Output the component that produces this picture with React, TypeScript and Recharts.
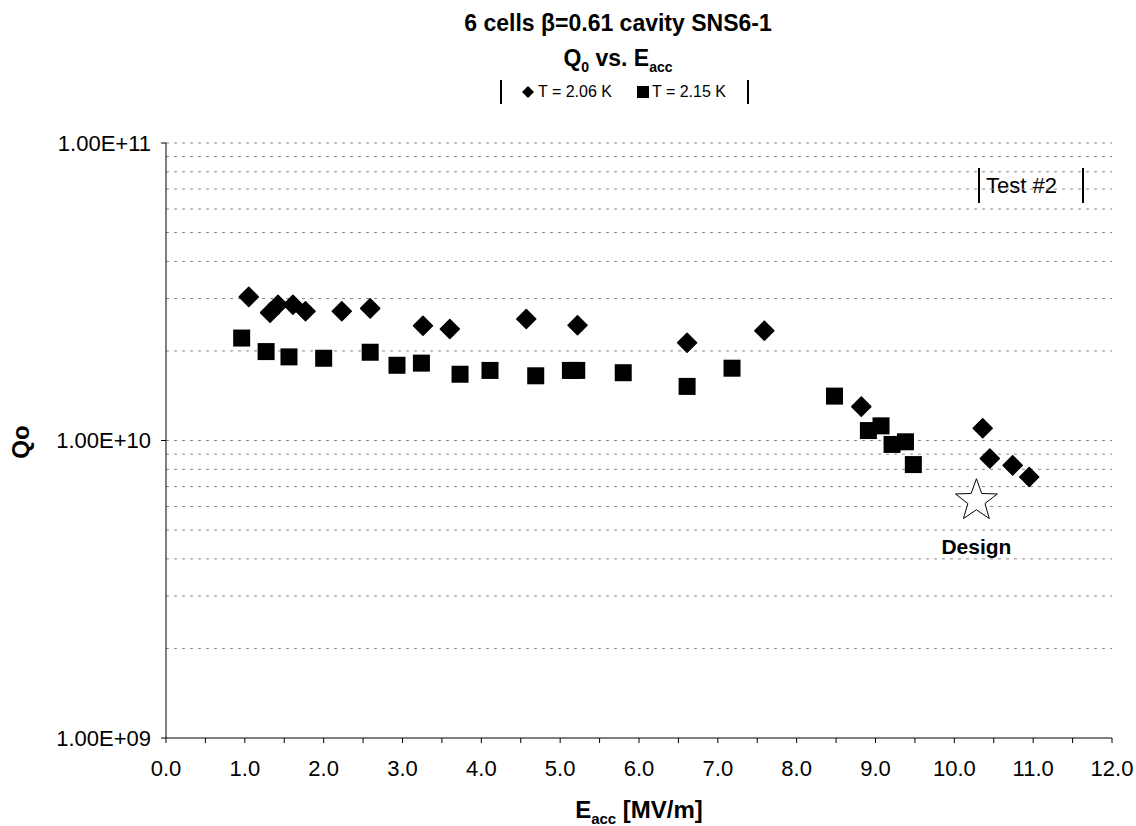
import React from 'react';
import { ScatterChart, Scatter, XAxis, YAxis, ReferenceLine, LabelList } from 'recharts';

// T = 2.06 K (diamonds)
const eacc206 = [1.05, 1.32, 1.42, 1.61, 1.77, 2.23, 2.59, 3.26, 3.6, 4.57, 5.22, 6.61, 7.59, 8.82, 10.36, 10.45, 10.74, 10.95];
const q206 = [3.04e10, 2.69e10, 2.86e10, 2.86e10, 2.72e10, 2.72e10, 2.78e10, 2.43e10, 2.37e10, 2.56e10, 2.44e10, 2.13e10, 2.34e10, 1.3e10, 1.1e10, 8.7e9, 8.25e9, 7.54e9];

// T = 2.15 K (squares)
const eacc215 = [0.96, 1.27, 1.56, 2.0, 2.59, 2.93, 3.24, 3.73, 4.11, 4.69, 5.13, 5.21, 5.8, 6.61, 7.18, 8.48, 8.91, 9.07, 9.21, 9.38, 9.48];
const q215 = [2.21e10, 1.99e10, 1.91e10, 1.89e10, 1.98e10, 1.79e10, 1.82e10, 1.67e10, 1.72e10, 1.65e10, 1.72e10, 1.72e10, 1.69e10, 1.52e10, 1.75e10, 1.41e10, 1.08e10, 1.12e10, 9.7e9, 9.9e9, 8.3e9];

const designPoint = [{ e: 10.28, q: 6.37e9, name: 'Design' }];

const xTicks = [0, 0.5, 1, 1.5, 2, 2.5, 3, 3.5, 4, 4.5, 5, 5.5, 6, 6.5, 7, 7.5, 8, 8.5, 9, 9.5, 10, 10.5, 11, 11.5, 12];
const yTicks = [1e9, 1e10, 1e11];
const yGrid = [
  2e9, 3e9, 4e9, 5e9, 6e9, 7e9, 8e9, 9e9, 1e10,
  2e10, 3e10, 4e10, 5e10, 6e10, 7e10, 8e10, 9e10, 1e11,
];

const data206 = eacc206.map((e, i) => ({ e, q: q206[i] }));
const data215 = eacc215.map((e, i) => ({ e, q: q215[i] }));

const FONT = '"Liberation Sans", Arial, sans-serif';

const Diamond = ({ cx, cy }: any) => (
  <polygon
    points={`${cx},${cy - 9.5} ${cx + 9.5},${cy} ${cx},${cy + 9.5} ${cx - 9.5},${cy}`}
    fill="#000"
    stroke="#000"
    strokeWidth={1.5}
    strokeLinejoin="round"
  />
);

const Square = ({ cx, cy }: any) => (
  <rect x={cx - 8.5} y={cy - 8.5} width={17} height={17} fill="#000" />
);

const Star = ({ cx, cy }: any) => {
  const pts: string[] = [];
  for (let k = 0; k < 10; k++) {
    const r = k % 2 === 0 ? 22 : 9;
    const a = -Math.PI / 2 + (k * Math.PI) / 5;
    pts.push(`${cx + r * Math.cos(a)},${cy + r * Math.sin(a) + 2}`);
  }
  return <polygon points={pts.join(' ')} fill="#fff" stroke="#000" strokeWidth={1} />;
};

const fmtY = (v: number) => {
  const exp = Math.round(Math.log10(v));
  return `1.00E+${exp < 10 ? '0' + exp : exp}`;
};

const fmtX = (v: number) => (Number.isInteger(v) ? v.toFixed(1) : '');

const titleStyle: React.CSSProperties = {
  position: 'absolute',
  left: 0,
  width: 1136,
  textAlign: 'center',
  paddingLeft: 100,
  boxSizing: 'border-box',
  fontWeight: 'bold',
  fontSize: 23,
  lineHeight: '30px',
  whiteSpace: 'nowrap',
};

export default function App() {
  return (
    <div style={{ position: 'absolute', left: 0, top: 0, width: 1136, height: 826, background: '#fff', fontFamily: FONT }}>
      <div style={{ ...titleStyle, top: 8 }}>6 cells β=0.61 cavity SNS6-1</div>
      <div style={{ ...titleStyle, top: 43 }}>
        Q<sub style={{ fontSize: 14 }}>0</sub> vs. E<sub style={{ fontSize: 14 }}>acc</sub>
      </div>
      <div style={{ position: 'absolute', top: 80, left: 500, width: 245, height: 24, borderLeft: '2px solid #000', borderRight: '2px solid #000', fontSize: 16, display: 'flex', alignItems: 'center', whiteSpace: 'nowrap' }}>
        <svg width={20} height={20} style={{ marginLeft: 16 }}>
          <polygon points="10,4 16,10 10,16 4,10" fill="#000" />
        </svg>
        <span>T = 2.06 K</span>
        <svg width={18} height={20} style={{ marginLeft: 22 }}>
          <rect x={3} y={4} width={12} height={12} fill="#000" />
        </svg>
        <span>T = 2.15 K</span>
      </div>
      <div style={{ position: 'absolute', top: 168, left: 978, width: 106, height: 35, borderLeft: '2px solid #000', borderRight: '2px solid #000', fontSize: 22, display: 'flex', alignItems: 'center', paddingLeft: 6, boxSizing: 'border-box', whiteSpace: 'nowrap' }}>
        Test #2
      </div>
      <div style={{ position: 'absolute', left: 4, top: 428, transform: 'rotate(-90deg)', fontWeight: 'bold', fontSize: 24 }}>
        Qo
      </div>
      <div style={{ position: 'absolute', top: 796, left: 0, width: 1136, textAlign: 'center', paddingLeft: 142, boxSizing: 'border-box', fontWeight: 'bold', fontSize: 24, whiteSpace: 'nowrap' }}>
        E<sub style={{ fontSize: 15 }}>acc</sub> [MV/m]
      </div>

      <ScatterChart width={1136} height={826} margin={{ top: 143, right: 24, bottom: 28, left: 0 }}>
        {yGrid.map((v) => (
          <ReferenceLine key={v} y={v} stroke="#888" strokeDasharray="3 5" strokeWidth={1} />
        ))}
        <XAxis
          type="number"
          dataKey="e"
          domain={[0, 12]}
          ticks={xTicks}
          interval={0}
          tickFormatter={fmtX}
          allowDataOverflow
          height={60}
          stroke="#000"
          tickSize={5}
          tick={{ fill: '#000', fontSize: 22, fontFamily: FONT, dy: 15 }}
        />
        <YAxis
          type="number"
          dataKey="q"
          scale="log"
          domain={[1e9, 1e11]}
          ticks={yTicks}
          tickFormatter={fmtY}
          allowDataOverflow
          width={166}
          stroke="#000"
          tickSize={5}
          tick={{ fill: '#000', fontSize: 22, fontFamily: FONT, dx: -8 }}
        />
        <Scatter name="T = 2.06 K" data={data206} shape={<Diamond />} isAnimationActive={false} />
        <Scatter name="T = 2.15 K" data={data215} shape={<Square />} isAnimationActive={false} />
        <Scatter name="Design" data={designPoint} shape={<Star />} isAnimationActive={false}>
          <LabelList dataKey="name" position="bottom" offset={36} fill="#000" fontWeight="bold" fontSize={21} fontFamily={FONT} />
        </Scatter>
      </ScatterChart>
    </div>
  );
}
